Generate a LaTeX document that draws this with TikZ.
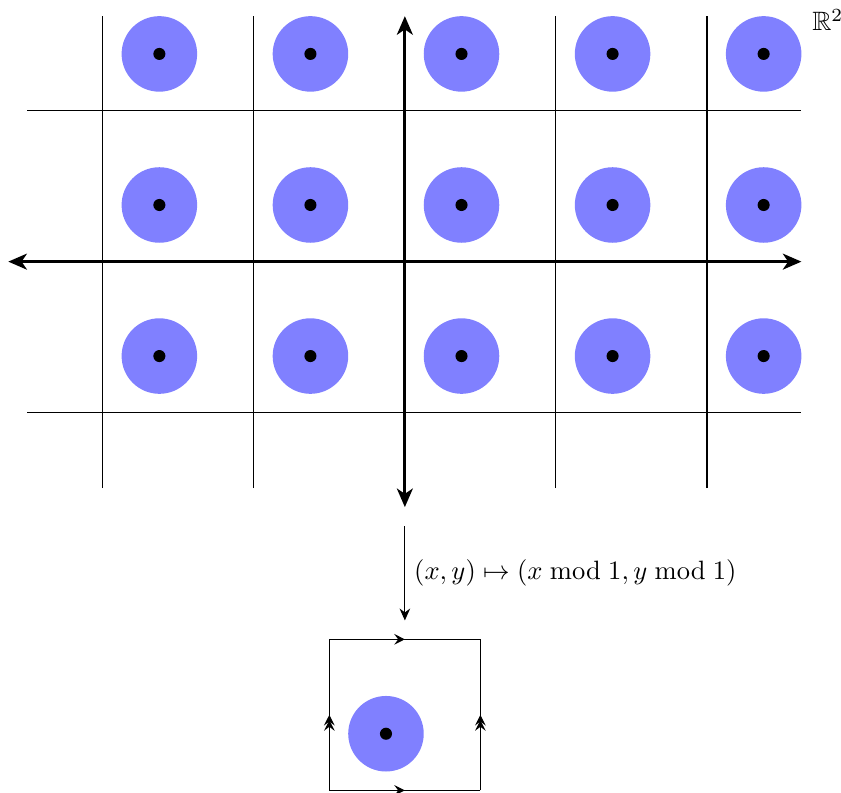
\documentclass[tikz,border=0pt]{standalone}
\usepackage{amsmath,amssymb}
\usetikzlibrary{decorations.markings,arrows.meta}
\tikzset{
  gridline/.style={black, line width=0.4pt},
  axisline/.style={black, line width=1.1pt, {Stealth[length=7pt,width=6pt,inset=2pt]}-{Stealth[length=7pt,width=6pt,inset=2pt]}},
  disc/.style={fill=blue!50, draw=none},
  dot/.style={fill=black, draw=none},
  maparrow/.style={black, line width=0.4pt, -{Stealth[length=4.5pt,width=4pt,inset=1.5pt]}},
  midarrow/.style={postaction={decorate}, decoration={markings, mark=at position 0.5 with {\arrow{#1}}}},
}
\begin{document}
\begin{tikzpicture}[x=2cm,y=2cm]
\useasboundingbox (-2.68,-3.513) rectangle (2.887,1.732);
% grid lines
\foreach \x in {-2,-1,1,2} \draw[gridline] (\x,-1.5) -- (\x,1.625);
\foreach \y in {-1,1} \draw[gridline] (-2.5,\y) -- (2.625,\y);
% discs and dots
\foreach \i in {-2,...,2} \foreach \j in {-1,0,1} {
  \fill[disc] (\i+0.375,\j+0.375) circle (0.25);
  \fill[dot] (\i+0.375,\j+0.375) circle (0.04);
}
% axes
\coordinate (xl) at (-2.625,0);
\coordinate (xr) at (2.625,0);
\coordinate (yb) at (0,-1.625);
\coordinate (yt) at (0,1.625);
\draw[axisline] (xl) -- (xr);
\draw[axisline] (yb) -- (yt);
\node (R2) at (2.8,1.6) {$\mathbb{R}^2$};
% map arrow
\coordinate (ma) at (0,-1.75);
\coordinate (mb) at (0,-2.375);
\draw[maparrow] (ma) -- node[right] (maplabel) {$(x,y)\mapsto(x \bmod 1, y \bmod 1)$} (mb);
% torus square
\coordinate (s1) at (-0.5,-3.5);
\coordinate (s2) at (0.5,-3.5);
\coordinate (s3) at (0.5,-2.5);
\coordinate (s4) at (-0.5,-2.5);
\draw[midarrow={Stealth[length=4pt,width=4pt,inset=1.5pt]}] (s1) -- (s2);
\draw[midarrow={Stealth[length=4pt,width=4pt,inset=1.5pt]}] (s4) -- (s3);
\draw[midarrow={Stealth[length=4pt,width=4pt,inset=1.5pt,sep=-2pt] Stealth[length=4pt,width=4pt,inset=1.5pt]}] (s1) -- (s4);
\draw[midarrow={Stealth[length=4pt,width=4pt,inset=1.5pt,sep=-2pt] Stealth[length=4pt,width=4pt,inset=1.5pt]}] (s2) -- (s3);
\fill[disc] (-0.125,-3.125) circle (0.25);
\fill[dot] (-0.125,-3.125) circle (0.04);
\end{tikzpicture}
\end{document}
